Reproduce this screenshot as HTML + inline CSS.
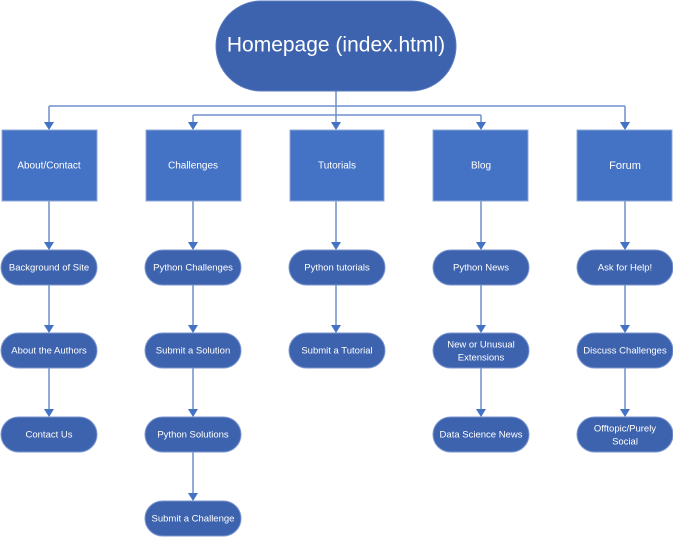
<!DOCTYPE html>
<html><head><style>
body{margin:0;background:#fff;width:673px;height:538px;overflow:hidden}
svg text{font-family:"Liberation Sans",sans-serif;fill:#fff;text-anchor:middle;dominant-baseline:middle}
</style></head><body>
<svg width="673" height="538" viewBox="0 0 673 538" xmlns="http://www.w3.org/2000/svg">
<g stroke="#6f8fcc" stroke-width="1.5" fill="none">
<path d="M336 91 V106 M49 106 H625"/>
<path d="M193 115 H481"/>
<path d="M49 106 V124 M193 115 V124 M336 106 V124 M481 115 V124 M625 106 V124"/>
<path d="M49 201 V244 M49 285 V327 M49 368 V411"/>
<path d="M193 201 V244 M193 285 V327 M193 368 V411 M193 452 V495"/>
<path d="M336 201 V244 M336 285 V327"/>
<path d="M481 201 V244 M481 285 V327 M481 368 V411"/>
<path d="M625 201 V244 M625 285 V327 M625 368 V411"/>
</g>
<g fill="#4472c4">
<path d="M44 122 h10 l-5 8z M188 122 h10 l-5 8z M331 122 h10 l-5 8z M476 122 h10 l-5 8z M620 122 h10 l-5 8z"/>
<path d="M44 242 h10 l-5 8z M44 325 h10 l-5 8z M44 409 h10 l-5 8z"/>
<path d="M188 242 h10 l-5 8z M188 325 h10 l-5 8z M188 409 h10 l-5 8z M188 493 h10 l-5 8z"/>
<path d="M331 242 h10 l-5 8z M331 325 h10 l-5 8z"/>
<path d="M476 242 h10 l-5 8z M476 325 h10 l-5 8z M476 409 h10 l-5 8z"/>
<path d="M620 242 h10 l-5 8z M620 325 h10 l-5 8z M620 409 h10 l-5 8z"/>
</g>
<rect x="216" y="1" width="240" height="90" rx="45" fill="#3d62ae" stroke="#5a7cc0"/>
<text x="336" y="46" font-size="21">Homepage (index.html)</text>
<g fill="#4472c4" stroke="#8fa8db">
<rect x="2" y="130" width="95" height="71"/><rect x="146" y="130" width="95" height="71"/><rect x="290" y="130" width="94" height="71"/><rect x="433" y="130" width="95" height="71"/><rect x="577" y="130" width="95" height="71"/>
</g>
<g font-size="10">
<text x="49" y="166">About/Contact</text><text x="193" y="166">Challenges</text><text x="337" y="166">Tutorials</text><text x="481" y="166">Blog</text><text x="625" y="166" font-size="11">Forum</text>
</g>
<g fill="#3d62ae" stroke="#7a96cf">
<rect x="1" y="250" width="96" height="35" rx="17.5"/><rect x="1" y="333" width="96" height="35" rx="17.5"/><rect x="1" y="417" width="96" height="35" rx="17.5"/>
<rect x="145" y="250" width="96" height="35" rx="17.5"/><rect x="145" y="333" width="96" height="35" rx="17.5"/><rect x="145" y="417" width="96" height="35" rx="17.5"/><rect x="145" y="501" width="96" height="35" rx="17.5"/>
<rect x="289" y="250" width="96" height="35" rx="17.5"/><rect x="289" y="333" width="96" height="35" rx="17.5"/>
<rect x="433" y="250" width="96" height="35" rx="17.5"/><rect x="433" y="333" width="96" height="35" rx="17.5"/><rect x="433" y="417" width="96" height="35" rx="17.5"/>
<rect x="577" y="250" width="96" height="35" rx="17.5"/><rect x="577" y="333" width="96" height="35" rx="17.5"/><rect x="577" y="417" width="96" height="35" rx="17.5"/>
</g>
<g font-size="9.5">
<text x="49" y="268">Background of Site</text><text x="49" y="351">About the Authors</text><text x="49" y="435">Contact Us</text>
<text x="193" y="268">Python Challenges</text><text x="193" y="351">Submit a Solution</text><text x="193" y="435">Python Solutions</text><text x="193" y="519">Submit a Challenge</text>
<text x="337" y="268">Python tutorials</text><text x="337" y="351">Submit a Tutorial</text>
<text x="481" y="268">Python News</text><text x="481" y="345">New or Unusual</text><text x="481" y="358">Extensions</text><text x="481" y="435">Data Science News</text>
<text x="625" y="268">Ask for Help!</text><text x="625" y="351">Discuss Challenges</text><text x="625" y="429">Offtopic/Purely</text><text x="625" y="442">Social</text>
</g>
</svg>
</body></html>
